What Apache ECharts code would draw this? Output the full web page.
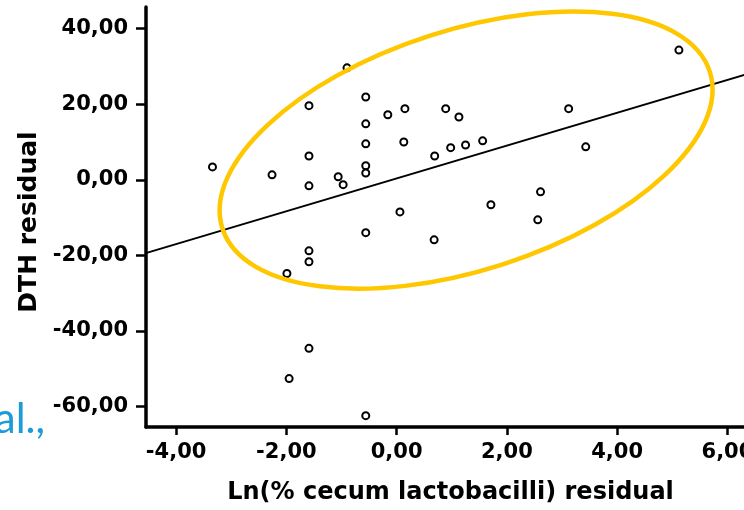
<!DOCTYPE html>
<html>
<head>
<meta charset="utf-8">
<script src="https://cdn.jsdelivr.net/npm/echarts@6/dist/echarts.min.js"></script>
<style>
html,body{margin:0;padding:0;background:#fff;}
#chart{width:744px;height:510px;}
</style>
</head>
<body>
<div id="chart"></div>
<script>
// Ln(% cecum lactobacilli) residual (x) vs DTH residual (y)
const xValues = [-3.34,-2.26,-1.59,-1.59,-1.59,-1.06,-0.97,-0.90,-0.56,-0.56,-0.56,-0.56,-0.56,-0.56,
                 -0.16,0.06,0.15,0.13,0.69,0.89,0.98,1.13,1.25,1.56,1.71,0.68,2.61,2.56,3.12,3.43,5.12,
                 -1.59,-1.59,-1.99,-1.59,-1.95,-0.56];
const yValues = [3.4,1.3,19.6,6.3,-1.6,0.8,-1.3,29.6,21.9,14.8,9.5,3.7,1.8,-14.0,
                 17.2,-8.5,18.8,10.0,6.3,18.8,8.5,16.6,9.2,10.3,-6.6,-15.9,-3.2,-10.6,18.8,8.7,34.3,
                 -18.8,-21.7,-24.8,-44.6,-52.6,-62.4];
// fitted regression line, read at the two ends of the visible axis
const fitX = [-4.55, 6.5];
const fitY = [-19.4, 28.6];
const xTicks = [-4, -2, 0, 2, 4, 6];
const yTicks = [-60, -40, -20, 0, 20, 40];
const xRange = [-4.546, 6.5];
const yRange = [-65.4, 45.7];
// highlighted cluster (centre in data units)
const ellipseCentre = [1.26, 7.85];
const sideNote = 'et al.,';
const xName = 'Ln(% cecum lactobacilli) residual';
const yName = 'DTH residual';

const fmt = v => Number(v).toFixed(2).replace('.', ',');
const chart = echarts.init(document.getElementById('chart'), null, {renderer: 'canvas'});
const axisFont = {fontFamily: 'DejaVu Sans', fontWeight: 'bold', color: '#000'};

chart.setOption({
  animation: false,
  backgroundColor: '#fff',
  grid: {left: 146, top: 7, width: 609, bottom: 83, containLabel: false, outerBoundsMode: 'none'},
  xAxis: {
    type: 'value', min: xRange[0], max: xRange[1],
    name: xName, nameLocation: 'middle', nameGap: 54,
    nameTextStyle: Object.assign({fontSize: 24}, axisFont),
    axisLine: {show: true, onZero: false, lineStyle: {color: '#000', width: 3.5}},
    axisTick: {show: true, customValues: xTicks, length: 8, inside: false, lineStyle: {color: '#000', width: 2.5}},
    axisLabel: Object.assign({customValues: xTicks, fontSize: 21, margin: 15, formatter: fmt}, axisFont),
    splitLine: {show: false}
  },
  yAxis: {
    type: 'value', min: yRange[0], max: yRange[1],
    name: yName, nameLocation: 'middle', nameGap: 93, nameRotate: 90,
    nameTextStyle: Object.assign({fontSize: 25, padding: [0, 10, 0, 0]}, axisFont),
    axisLine: {show: true, onZero: false, lineStyle: {color: '#000', width: 3.5}},
    axisTick: {show: true, customValues: yTicks, length: 10, lineStyle: {color: '#000', width: 2.5}},
    axisLabel: Object.assign({customValues: yTicks, fontSize: 21, margin: 18, formatter: fmt}, axisFont),
    splitLine: {show: false}
  },
  series: [
    {
      type: 'line',
      data: fitX.map((x, i) => [x, fitY[i]]),
      symbol: 'none',
      lineStyle: {color: '#000', width: 2},
      silent: true, z: 2
    },
    {
      type: 'scatter',
      data: xValues.map((x, i) => [x, yValues[i]]),
      symbol: 'circle', symbolSize: 7,
      itemStyle: {color: '#fff', borderColor: '#000', borderWidth: 2, opacity: 1},
      z: 3
    }
  ]
});

const c = chart.convertToPixel({gridIndex: 0}, ellipseCentre);
chart.setOption({
  graphic: [
    {
      type: 'ellipse', x: c[0], y: c[1], rotation: 17.85 * Math.PI / 180,
      shape: {cx: 0, cy: 0, rx: 256, ry: 120},
      style: {fill: 'none', stroke: '#FFC700', lineWidth: 4.5},
      z: 100, silent: true
    },
    {
      type: 'text', x: 45, y: 440,
      style: {text: sideNote, font: '42px Lato', fill: '#1b9bd7', align: 'right', verticalAlign: 'bottom'},
      z: 100, silent: true
    }
  ]
});
</script>
</body>
</html>
